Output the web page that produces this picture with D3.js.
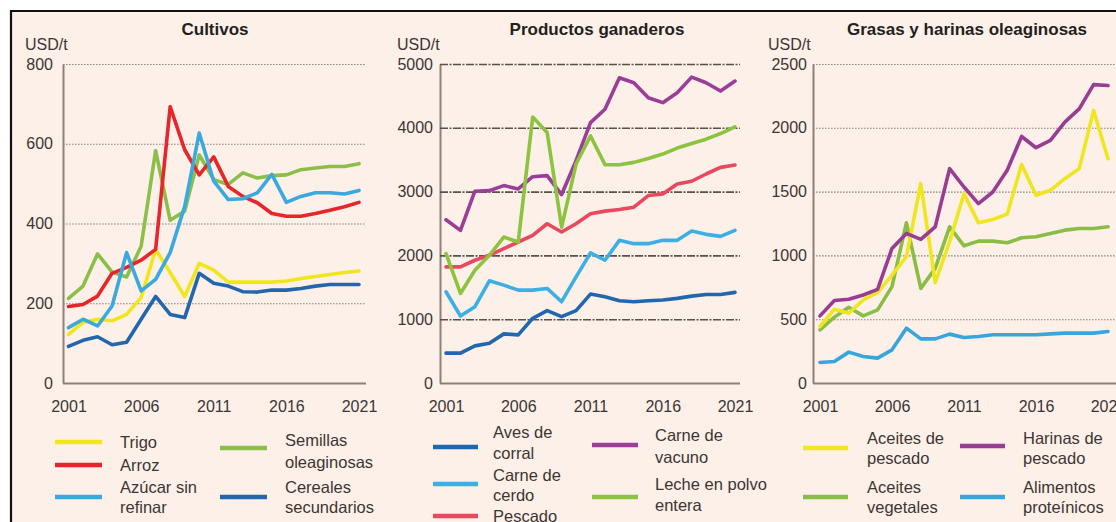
<!DOCTYPE html>
<html><head><meta charset="utf-8">
<script src="https://cdn.jsdelivr.net/npm/d3@7"></script>
<style>
html,body{margin:0;padding:0;background:#fff;}
svg{display:block;font-family:"Liberation Sans",Arial,Helvetica,sans-serif;}
</style></head><body>
<svg id="c" width="1116" height="522"></svg>
<script>
// ---------- DATA ----------
const years = [2001,2002,2003,2004,2005,2006,2007,2008,2009,2010,2011,2012,2013,2014,2015,2016,2017,2018,2019,2020,2021];
const xTickYears = [2001,2006,2011,2016,2021];

// Cultivos (USD/t)
const trigo    = [122,152,160,156,172,214,335,277,217,300,283,253,253,253,253,256,262,267,272,277,281];
const arroz    = [192,197,218,275,290,308,335,693,585,522,567,493,468,452,425,418,418,425,433,442,453];
const azucar   = [139,160,143,193,327,231,260,327,443,627,506,460,462,477,523,453,468,477,477,474,483];
const semillas = [212,243,324,278,266,343,583,408,431,572,510,498,527,514,520,522,535,539,543,543,550];
const cereales = [92,107,116,96,102,160,217,172,164,275,250,243,229,228,233,233,237,243,247,247,247];
const cultivosTicks = [0,200,400,600,800];

// Productos ganaderos (USD/t)
const aves    = [468,468,582,624,770,754,1014,1134,1040,1134,1394,1352,1290,1274,1290,1300,1326,1362,1388,1388,1420];
const cerdo   = [1430,1050,1196,1602,1534,1456,1456,1482,1274,1664,2038,1924,2236,2184,2184,2236,2236,2382,2330,2298,2392];
const pescado = [1820,1820,1924,2002,2106,2210,2314,2496,2366,2496,2652,2694,2720,2756,2938,2964,3120,3162,3276,3380,3416];
const vacuno  = [2558,2392,3006,3016,3094,3042,3234,3250,2954,3484,4082,4290,4784,4706,4472,4394,4550,4794,4706,4576,4732];
const leche   = [2028,1404,1768,2002,2288,2210,4170,3926,2444,3432,3874,3422,3422,3458,3520,3588,3682,3754,3822,3910,4014];
const ganaderosTicks = [0,1000,2000,3000,4000,5000];

// Grasas y harinas oleaginosas (USD/t)
const aceitesPescado = [443,578,547,651,708,846,990,1562,786,1107,1484,1255,1281,1323,1713,1471,1510,1601,1680,2135,1758];
const aceitesVeg     = [417,516,594,526,573,755,1255,742,898,1224,1075,1112,1112,1099,1138,1146,1172,1198,1211,1211,1224];
const harinas        = [526,646,656,690,734,1055,1172,1125,1224,1680,1536,1406,1497,1667,1932,1844,1901,2044,2148,2338,2331];
const alimentos      = [161,169,242,208,195,260,430,346,346,383,357,365,378,378,378,378,385,391,391,391,404];
const grasasTicks = [0,500,1000,1500,2000,2500];

const titles = ["Cultivos","Productos ganaderos","Grasas y harinas oleaginosas"];
const unitLabel = "USD/t";

// ---------- STYLE / LAYOUT ----------
const panels = [
  { title: titles[0], ticks: cultivosTicks,
    axisX: 63, x0: 68.5, x1: 359, gridEnd: 366, pad: 10, titleX: 215, unitX: 25, grid: "dot",
    series: [
      {values: cereales, color:"#2366ad"},
      {values: trigo,    color:"#f1e61c"},
      {values: semillas, color:"#8cbf4a"},
      {values: arroz,    color:"#e6262b"},
      {values: azucar,   color:"#3aa9de"}
    ],
    legend: { cols: [
      {sx0:55, sx1:102, tx:120, items:[
        {lines:["Trigo"], ly:[442], sy:442, color:"#f1e61c"},
        {lines:["Arroz"], ly:[465], sy:465, color:"#e6262b"},
        {lines:["Azúcar sin","refinar"], ly:[487,507], sy:497, color:"#3aa9de"}]},
      {sx0:220, sx1:267, tx:285, items:[
        {lines:["Semillas","oleaginosas"], ly:[440,462], sy:448, color:"#8cbf4a"},
        {lines:["Cereales","secundarios"], ly:[487,507], sy:497, color:"#2366ad"}]}
    ]}
  },
  { title: titles[1], ticks: ganaderosTicks,
    axisX: 440, x0: 446, x1: 735, gridEnd: 740, pad: 7, titleX: 597, unitX: 397, grid: "dash",
    series: [
      {values: aves,    color:"#2167ae"},
      {values: cerdo,   color:"#3cb0e3"},
      {values: pescado, color:"#e9485f"},
      {values: vacuno,  color:"#9a3e98"},
      {values: leche,   color:"#8cc440"}
    ],
    legend: { cols: [
      {sx0:433, sx1:478, tx:493, items:[
        {lines:["Aves de","corral"], ly:[432,453], sy:447, color:"#2167ae"},
        {lines:["Carne de","cerdo"], ly:[475,495], sy:484, color:"#3cb0e3"},
        {lines:["Pescado"], ly:[516], sy:516, color:"#e9485f"}]},
      {sx0:592, sx1:638, tx:655, items:[
        {lines:["Carne de","vacuno"], ly:[435,457], sy:445, color:"#9a3e98"},
        {lines:["Leche en polvo","entera"], ly:[484,505], sy:497, color:"#8cc440"}]}
    ]}
  },
  { title: titles[2], ticks: grasasTicks,
    axisX: 813, x0: 820, x1: 1108, gridEnd: 1116, pad: 6, titleX: 967, unitX: 768, grid: "dot",
    series: [
      {values: alimentos,      color:"#37a6dc"},
      {values: aceitesVeg,     color:"#8abd45"},
      {values: aceitesPescado, color:"#f0e620"},
      {values: harinas,        color:"#983d92"}
    ],
    legend: { cols: [
      {sx0:803, sx1:848, tx:867, items:[
        {lines:["Aceites de","pescado"], ly:[438,458], sy:448, color:"#f0e620"},
        {lines:["Aceites","vegetales"], ly:[487,507], sy:497, color:"#8abd45"}]},
      {sx0:960, sx1:1005, tx:1023, items:[
        {lines:["Harinas de","pescado"], ly:[438,458], sy:446, color:"#983d92"},
        {lines:["Alimentos","proteínicos"], ly:[487,507], sy:497, color:"#37a6dc"}]}
    ]}
  }
];

const yTop = 64, yBottom = 383;
const textColor = "#3b3634";
const axisColor = "#8c8079";

const svg = d3.select("#c");
// background & frame
svg.append("rect").attr("x",0).attr("y",0).attr("width",1116).attr("height",522).attr("fill","#ffffff");
svg.append("rect").attr("x",11).attr("y",11).attr("width",1105).attr("height",511).attr("fill","#fdf0e8");
svg.append("line").attr("x1",10).attr("x2",1116).attr("y1",11).attr("y2",11).attr("stroke","#111").attr("stroke-width",2.2);
svg.append("line").attr("x1",11).attr("x2",11).attr("y1",10).attr("y2",522).attr("stroke","#111").attr("stroke-width",2.2);

panels.forEach(p => {
  const yMax = p.ticks[p.ticks.length-1];
  const x = d3.scaleLinear().domain([years[0], years[years.length-1]]).range([p.x0, p.x1]);
  const y = d3.scaleLinear().domain([0, yMax]).range([yBottom, yTop]);
  const g = svg.append("g");

  // title & unit
  g.append("text").attr("x", p.titleX).attr("y", 35).attr("text-anchor","middle")
    .attr("font-size", 17).attr("font-weight","bold").attr("fill","#231f1e").text(p.title);
  g.append("text").attr("x", p.unitX).attr("y", 50).attr("font-size", 16).attr("fill", textColor).text(unitLabel);

  // y axis with gridlines
  const yAxis = d3.axisLeft(y).tickValues(p.ticks).tickSize(-(p.gridEnd - p.axisX))
    .tickSizeOuter(0).tickPadding(p.pad).tickFormat(d3.format("d"));
  const ya = g.append("g").attr("transform", `translate(${p.axisX},0)`).call(yAxis);
  ya.select(".domain").attr("stroke", axisColor).attr("stroke-width", 2);
  ya.selectAll(".tick text").attr("font-size", 16).attr("fill", textColor).attr("font-family", "Liberation Sans, Arial, sans-serif");
  ya.selectAll(".tick line").each(function(d){
    const l = d3.select(this);
    if (d === 0) { l.attr("stroke", axisColor).attr("stroke-width", 2); }
    else if (p.grid === "dash") { l.attr("stroke", "#57504d").attr("stroke-width", 1.6).attr("stroke-dasharray","8,1.5,2,1.5"); }
    else { l.attr("stroke", "#8f8783").attr("stroke-width", 1.1).attr("stroke-dasharray","1.6,1.4"); }
  });

  // x axis labels
  const xAxis = d3.axisBottom(x).tickValues(xTickYears).tickSize(0).tickPadding(18).tickFormat(d3.format("d"));
  const xa = g.append("g").attr("transform", `translate(0,${yBottom})`).call(xAxis);
  xa.select(".domain").remove();
  xa.selectAll(".tick text").attr("font-size", 16).attr("fill", textColor).attr("font-family", "Liberation Sans, Arial, sans-serif");

  // lines
  const line = d3.line().x((d,i) => x(years[i])).y(d => y(d)).curve(d3.curveLinear);
  p.series.forEach(s => {
    g.append("path").datum(s.values).attr("d", line).attr("fill","none")
      .attr("stroke", s.color).attr("stroke-width", 3.6)
      .attr("stroke-linejoin","round").attr("stroke-linecap","round");
  });

  // legend
  p.legend.cols.forEach(c => {
    c.items.forEach(it => {
      g.append("line").attr("x1", c.sx0).attr("x2", c.sx1).attr("y1", it.sy).attr("y2", it.sy)
        .attr("stroke", it.color).attr("stroke-width", 4.5);
      it.lines.forEach((t, k) => {
        g.append("text").attr("x", c.tx).attr("y", it.ly[k] + 6).attr("font-size", 16.5)
          .attr("fill", textColor).text(t);
      });
    });
  });
});
</script>
</body></html>
